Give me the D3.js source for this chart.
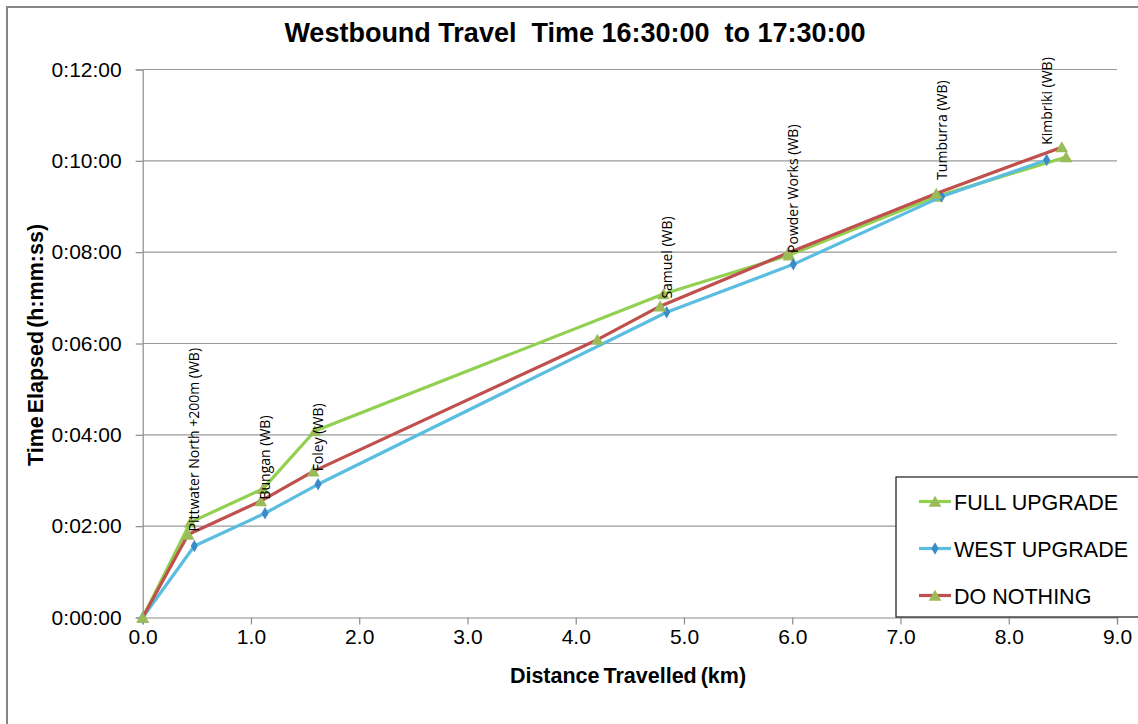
<!DOCTYPE html>
<html>
<head>
<meta charset="utf-8">
<script src="https://cdn.jsdelivr.net/npm/d3@7"></script>
<style>
  html, body { margin: 0; padding: 0; background: #fff; }
  svg { display: block; }
  text { font-family: "Liberation Sans", Arial, sans-serif; fill: #000; }
</style>
</head>
<body>
<svg id="chart" width="1138" height="724"></svg>
<script>
// Distance (km) and elapsed time (seconds) for each scenario
const fullKm   = [0, 0.44, 1.11, 1.59, 4.81, 5.97, 7.33, 8.53];
const fullSec  = [0, 125, 169, 245, 425, 476, 553, 605];

const westKm   = [0, 0.477, 1.13, 1.62, 4.84, 6.01, 7.38, 8.35];
const westSec  = [0, 94, 137, 175, 401, 464, 553, 601];

const doNothingKm  = [0, 0.42, 1.09, 1.575, 4.20, 4.78, 5.96, 7.33, 8.49];
const doNothingSec = [0, 109, 153, 192, 365, 409, 479, 557, 618];

// Intersection labels (placed at the West Upgrade chainages)
const stationNames = ["Pittwater North +200m (WB)", "Bungan (WB)", "Foley (WB)",
                      "Samuel (WB)", "Powder Works (WB)", "Tumburra (WB)", "Kimbriki (WB)"];
const stationLabelSec = [113, 155, 192, 419, 479, 575, 621];

const xTicks = [0, 1, 2, 3, 4, 5, 6, 7, 8, 9];
const yTicks = [0, 120, 240, 360, 480, 600, 720];

const seriesNames = ["FULL UPGRADE", "WEST UPGRADE", "DO NOTHING"];

const svg = d3.select("#chart");

// outer chart frame
svg.append("rect")
  .attr("x", 7).attr("y", 7).attr("width", 1160).attr("height", 740)
  .attr("fill", "#fff").attr("stroke", "#868686").attr("stroke-width", 2);

const plot = { left: 142.7, right: 1117, top: 69.5, bottom: 617.5 };

const x = d3.scaleLinear().domain([0, 9]).range([plot.left, plot.right]);
const y = d3.scaleLinear().domain([0, 720]).range([plot.bottom, plot.top]);

const fmtTime = s => {
  const m = Math.floor(s / 60), sec = Math.round(s % 60);
  return "0:" + String(m).padStart(2, "0") + ":" + String(sec).padStart(2, "0");
};

// horizontal gridlines
svg.append("g")
  .selectAll("line")
  .data(yTicks.slice(1))
  .join("line")
  .attr("x1", plot.left).attr("x2", plot.right)
  .attr("y1", d => y(d)).attr("y2", d => y(d))
  .attr("stroke", "#9a9a9a").attr("stroke-width", 1.2);

// y axis
const yAxis = svg.append("g")
  .attr("transform", `translate(${plot.left},0)`)
  .call(d3.axisLeft(y).tickValues(yTicks).tickFormat(fmtTime).tickSize(7).tickPadding(14));
yAxis.select(".domain").attr("stroke", "#8c8c8c").attr("stroke-width", 1.2);
yAxis.selectAll(".tick line").attr("stroke", "#8c8c8c").attr("stroke-width", 1.2);
yAxis.selectAll(".tick text")
  .style("font-family", "'Liberation Sans', Arial, sans-serif")
  .style("font-size", "21px").attr("fill", "#000");

// x axis
const xAxis = svg.append("g")
  .attr("transform", `translate(0,${plot.bottom})`)
  .call(d3.axisBottom(x).tickValues(xTicks).tickFormat(d3.format(".1f")).tickSize(7).tickPadding(5));
xAxis.select(".domain").attr("stroke", "#8c8c8c").attr("stroke-width", 1.2);
xAxis.selectAll(".tick line").attr("stroke", "#8c8c8c").attr("stroke-width", 1.2);
xAxis.selectAll(".tick text")
  .style("font-family", "'Liberation Sans', Arial, sans-serif")
  .style("font-size", "21px").attr("fill", "#000");

// title and axis titles
svg.append("text")
  .attr("x", 575).attr("y", 42)
  .attr("text-anchor", "middle")
  .style("white-space", "pre")
  .style("font-size", "27px").style("font-weight", "bold")
  .text("Westbound Travel  Time 16:30:00  to 17:30:00");

svg.append("text")
  .attr("x", 628).attr("y", 683)
  .attr("text-anchor", "middle")
  .style("font-size", "21.5px").style("font-weight", "bold")
  .style("word-spacing", "-2px")
  .text("Distance Travelled (km)");

svg.append("text")
  .attr("transform", "translate(43,345) rotate(-90)")
  .attr("text-anchor", "middle")
  .style("font-size", "21.5px").style("font-weight", "bold")
  .style("word-spacing", "-3px")
  .text("Time Elapsed (h:mm:ss)");

const triangle = d3.symbol().type(d3.symbolTriangle).size(70);
const diamond = d3.symbol().type(d3.symbolDiamond).size(45);

const series = [
  { name: seriesNames[0], km: fullKm, sec: fullSec, line: "#92D050", marker: "#9BBB59", shape: triangle, dy: 1.5 },
  { name: seriesNames[1], km: westKm, sec: westSec, line: "#5BBDE0", marker: "#3A8CC8", shape: diamond, dy: 0 },
  { name: seriesNames[2], km: doNothingKm, sec: doNothingSec, line: "#C0504D", marker: "#9BBB59", shape: triangle, dy: 1.5 }
];

const lineGen = d3.line().x(d => x(d[0])).y(d => y(d[1]));

series.forEach(s => {
  const pts = s.km.map((k, i) => [k, s.sec[i]]);
  const g = svg.append("g");
  g.append("path")
    .attr("d", lineGen(pts))
    .attr("fill", "none")
    .attr("stroke", s.line)
    .attr("stroke-width", 3.2)
    .attr("stroke-linejoin", "round");
  g.selectAll("path.m")
    .data(pts)
    .join("path")
    .attr("class", "m")
    .attr("d", s.shape)
    .attr("transform", d => `translate(${x(d[0])},${y(d[1]) + s.dy})`)
    .attr("fill", s.marker);
});

// rotated intersection labels
svg.append("g")
  .selectAll("text")
  .data(stationNames.map((n, i) => ({ name: n, km: westKm[i + 1], sec: stationLabelSec[i] })))
  .join("text")
  .attr("transform", d => `translate(${x(d.km)},${y(d.sec)}) rotate(-90)`)
  .attr("dy", "0.35em")
  .style("font-family", "'Open Sans', 'Noto Sans', sans-serif")
  .style("font-size", "14px")
  .attr("fill", "#111")
  .text(d => d.name);

// legend
const lg = svg.append("g");
lg.append("rect")
  .attr("x", 896).attr("y", 477).attr("width", 270).attr("height", 140)
  .attr("fill", "#fff").attr("stroke", "#1a1a1a").attr("stroke-width", 1.2);

const legendRows = d3.scalePoint().domain(seriesNames).range([501.5, 595.5]);
series.forEach(s => {
  const ly = legendRows(s.name);
  lg.append("line")
    .attr("x1", 919).attr("x2", 951).attr("y1", ly).attr("y2", ly)
    .attr("stroke", s.line).attr("stroke-width", 3.2);
  lg.append("path")
    .attr("d", s.shape)
    .attr("transform", `translate(935,${ly + s.dy})`)
    .attr("fill", s.marker);
  lg.append("text")
    .attr("x", 954).attr("y", ly + 8)
    .style("font-size", "21.5px")
    .text(s.name);
});
</script>
</body>
</html>
